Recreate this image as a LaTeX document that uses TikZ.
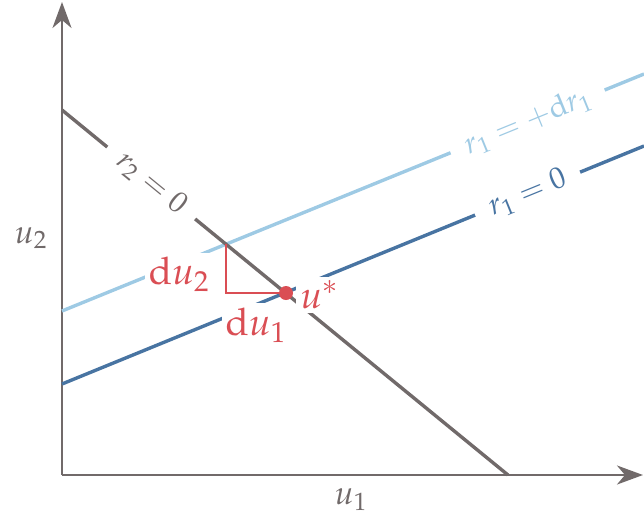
\documentclass[tikz,border=0pt]{standalone}
\usepackage{amsmath}
\usepackage{mathpazo}
\usepackage{tikz}
\usetikzlibrary{arrows.meta,calc}

\definecolor{axisgray}{RGB}{113,106,106}
\definecolor{resblue}{RGB}{72,116,162}
\definecolor{pertblue}{RGB}{158,202,228}
\definecolor{stepred}{RGB}{218,78,84}

\tikzset{
    axis/.style={line width=1.2pt, color=axisgray, -{Stealth[length=13pt, width=9.5pt, inset=4pt]}},
    axislabel/.style={text=axisgray, font=\fontsize{16.5}{19}\selectfont},
    resline/.style={line width=1.7pt},
    linelabel/.style={fill=white, inner xsep=8pt, inner ysep=1pt, font=\fontsize{15}{18}\selectfont},
    steplabel/.style={fill=white, inner sep=2pt, text=stepred, font=\fontsize{19}{22}\selectfont}
}

\begin{document}
\begin{tikzpicture}[x=0.5pt, y=-0.5pt]
        \useasboundingbox (0,0) rectangle (644,527);
        % axes
        \coordinate (O) at (62,475);
        \coordinate (ytip) at (62,2);
        \coordinate (xtip) at (643,475);
        \draw [axis] (O) -- (ytip);
        \draw [axis] (O) -- (xtip);
        \node [axislabel] (u2) at (31,238) {$u_2$};
        \node [axislabel] (u1) at (351,500) {$u_1$};
        % residual lines
        \coordinate (p0) at (62,311);
        \coordinate (p1) at (644,74);
        \coordinate (q0) at (62,384);
        \coordinate (q1) at (644,146);
        \coordinate (s0) at (62,110);
        \coordinate (s1) at (508,475);
        \draw [resline, pertblue] (p0) -- (p1)
            node [linelabel, text=pertblue, pos=0.8, rotate=22.2] (pertlab) {$r_1 = +\mathrm{d}r_1$};
        \draw [resline, resblue] (q0) -- (q1)
            node [linelabel, text=resblue, pos=0.8, rotate=22.2] (reslab) {$r_1 = 0$};
        \draw [resline, axisgray] (s0) -- (s1)
            node [linelabel, text=axisgray, pos=0.2, rotate=-39.3] (seclab) {$r_2 = 0$};
        % step triangle
        \coordinate (top) at (226,244);
        \coordinate (corner) at (226,293);
        \coordinate (ustar) at (286,293);
        \draw [stepred, line width=0.6pt] (top) -- (corner) -- (ustar);
        \node [steplabel, left, xshift=-6pt, yshift=-3pt] (du2) at ($(top)!0.5!(corner)$) {$\mathrm{d}u_2$};
        \node [steplabel, below, yshift=-5pt] (du1) at ($(corner)!0.5!(ustar)$) {$\mathrm{d}u_1$};
        \fill [stepred] (ustar) circle (3.5pt);
        \node [steplabel, right, xshift=5pt, yshift=-1pt] (ulab) at (ustar) {$u^*$};
    \end{tikzpicture}
\end{document}
